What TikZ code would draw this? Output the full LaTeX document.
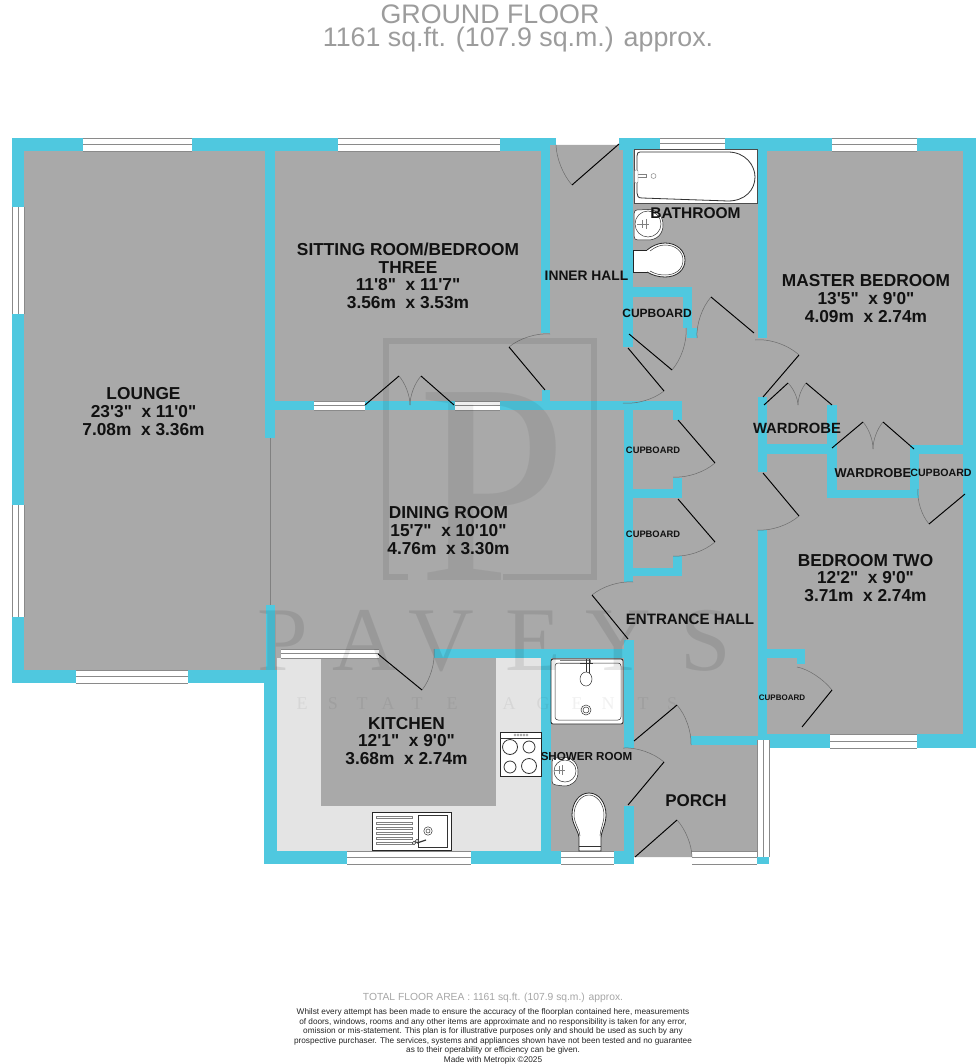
\documentclass[tikz,border=0pt]{standalone}
\usepackage{fontspec}
\newfontfamily\labfont{Liberation Sans}
\newfontfamily\wmfont{Liberation Serif}
\definecolor{wallc}{HTML}{4FC8DF}
\definecolor{floorc}{HTML}{A9A9A9}
\definecolor{kitc}{HTML}{E4E4E4}
\definecolor{winline}{HTML}{8A8A8A}
\definecolor{titlec}{HTML}{9C9C9C}
\definecolor{inkc}{HTML}{111111}
\tikzset{
  leaf/.style={draw=black,line width=0.95pt},
  swing/.style={draw=gray!85!black,line width=0.5pt},
  fixt/.style={draw=black!85,line width=0.8pt,fill=white},
  fixl/.style={draw=black!80,line width=0.5pt},
  fixg/.style={draw=black!50,line width=0.45pt},
  lab/.style={font=\labfont\bfseries\fontsize{#1}{#1}\selectfont,text=inkc,inner sep=0pt,align=center},
  rm/.style={font=\labfont\bfseries\fontsize{17.3}{17.6}\selectfont,text=inkc,inner sep=0pt,align=center},
  wm/.style={font=\wmfont\fontsize{#1}{#1}\selectfont,text=black,opacity=0.09,text opacity=0.09,inner sep=0pt,anchor=base},
}
% wall: filled rectangle
\newcommand\wl[4]{\fill[wallc] (#1,#2) rectangle (#3,#4);}
% horizontal window
\newcommand\wh[4]{%
  \fill[white] (#1,#2) rectangle (#3,#4);
  \draw[winline,line width=0.7pt] (#1,#2)--(#3,#2) (#1,#4)--(#3,#4);
  \draw[winline,line width=0.7pt] (#1,{(#2+#4)/2})--(#3,{(#2+#4)/2});}
% vertical window
\newcommand\wv[4]{%
  \fill[white] (#1,#2) rectangle (#3,#4);
  \draw[winline,line width=0.7pt] (#1,#2)--(#1,#4) (#3,#2)--(#3,#4);
  \draw[winline,line width=0.7pt] ({(#1+#3)/2},#2)--({(#1+#3)/2},#4);}
% door: hinge, leaf end, end of the swing
\newcommand\door[6]{%
  \pgfmathsetmacro\dUx{#3-#1}\pgfmathsetmacro\dUy{#4-#2}%
  \pgfmathsetmacro\dVx{#5-#1}\pgfmathsetmacro\dVy{#6-#2}%
  \pgfmathsetmacro\dCos{(\dUx*\dVx+\dUy*\dVy)/(veclen(\dUx,\dUy)*veclen(\dVx,\dVy))}%
  \pgfmathsetmacro\dPx{#1+(\dUx+\dVx)/(1+\dCos)}\pgfmathsetmacro\dPy{#2+(\dUy+\dVy)/(1+\dCos)}%
  \pgfmathsetmacro\dAx{#3+0.58*(\dPx-#3)}\pgfmathsetmacro\dAy{#4+0.58*(\dPy-#4)}%
  \pgfmathsetmacro\dBx{#5+0.58*(\dPx-#5)}\pgfmathsetmacro\dBy{#6+0.58*(\dPy-#6)}%
  \draw[swing] (#3,#4) .. controls (\dAx,\dAy) and (\dBx,\dBy) .. (#5,#6);
  \draw[leaf] (#1,#2)--(#3,#4);}
\begin{document}
\begin{tikzpicture}[x=1pt,y=-1pt]
\useasboundingbox (0,0) rectangle (978,1064);
\fill[white] (0,0) rectangle (978,1064);
% floors
\fill[floorc] (18,145)--(970,145)--(970,742)--(764,742)--(764,857)--(270,857)--(270,676)--(18,676)--cycle;
\fill[kitc] (277,658) rectangle (541,851);
\fill[floorc] (321,658) rectangle (496,806);
% outer walls
\wl{12}{138}{24}{683}
\wl{12}{138}{550}{151}
\wl{550}{138}{556}{145}
\wl{619}{138}{660}{150}
\wl{660}{138}{725}{150}
\wl{725}{138}{976}{151}
\wl{963}{138}{976}{748}
\wl{758}{734}{976}{748}
\wl{691}{736}{758}{745}
\wl{12}{670}{264}{683}
\wl{264}{670}{277}{864}
\wl{264}{851}{561}{864}
\wl{614}{851}{634}{864}
\wl{757}{857}{769}{864}
% inner walls
\wl{265}{150}{275}{438}
\wl{266}{605}{275}{672}
\draw[gray,line width=0.5pt] (270,438)--(270,605);
\wl{275}{401}{500}{410}
\wl{500}{401}{682}{410}
\wl{541}{150}{550}{333}
\wl{542}{390}{550}{402}
\wl{623}{138}{633}{287}
\wl{623}{287}{692}{297}
\wl{623}{287}{633}{347}
\wl{683}{287}{692}{328}
\wl{687}{328}{697}{338}
\wl{758}{150}{767}{338}
\wl{624}{401}{633}{582}
\wl{673}{410}{682}{420}
\wl{633}{489}{682}{498}
\wl{673}{478}{682}{498}
\wl{673}{556}{682}{576}
\wl{624}{568}{682}{576}
\wl{758}{397}{767}{472}
\wl{767}{444}{830}{454}
\wl{827}{405}{837}{498}
\wl{827}{490}{919}{498}
\wl{910}{445}{919}{498}
\wl{919}{445}{963}{454}
\wl{758}{530}{767}{748}
\wl{767}{649}{805}{658}
\wl{797}{649}{805}{664}
\wl{434}{649}{633}{658}
\wl{541}{649}{551}{851}
\wl{624}{640}{634}{748}
\wl{624}{806}{634}{864}
% windows
\wh{83}{138}{192}{151}
\wh{338}{138}{500}{151}
\wh{660}{138}{725}{149}
\wh{832}{138}{917}{151}
\wv{12}{207}{24}{314}
\wv{12}{505}{24}{617}
\wh{76}{670}{188}{683}
\wh{314}{401}{365}{410}
\wh{455}{401}{500}{410}
\wh{281}{649}{379}{658}
\wh{347}{851}{471}{864}
\wh{561}{851}{614}{864}
\wh{830}{734}{917}{748}
\wh{692}{851}{757}{864}
\wv{757}{740}{769}{857}
% doors
\door{619}{144}{572}{185}{556}{145}
\door{545}{390}{509}{347}{550}{334}
\door{629}{334}{672}{370}{686}{328}
\door{628}{348}{664}{391}{623}{403}
\door{754}{333}{711}{297}{697}{338}
\door{763}{397}{799}{355}{755}{340}
\door{764}{405}{788}{383}{798}{405}
\door{832}{405}{806}{383}{798}{405}
\door{832}{448}{863}{422}{873}{449}
\door{914}{449}{883}{422}{873}{449}
\door{965}{494}{929}{524}{918}{489}
\door{678}{420}{715}{463}{673}{477}
\door{678}{499}{715}{542}{673}{556}
\door{763}{473}{799}{516}{757}{530}
\door{628}{639}{592}{595}{633}{582}
\door{378}{654}{422}{690}{434}{649}
\door{365}{405}{399}{376}{410}{405}
\door{454}{405}{421}{376}{410}{405}
\door{802}{727}{832}{690}{797}{667}
\door{634}{741}{677}{705}{691}{745}
\door{628}{805}{664}{762}{623}{748}
\door{635}{857}{677}{820}{692}{857}
% bath
\draw[draw=black!70,line width=0.7pt,fill=white] (634,149) rectangle (757,203);
\draw[fixl,line width=0.8pt] (640,152)--(728,152) .. controls (745,152) and (755,165) .. (755,177) .. controls (755,190) and (745,201) .. (728,201)--(642,198) .. controls (638,198) and (637,196) .. (637,193)--(637,156) .. controls (637,153) and (638,152) .. (640,152)--cycle;
\draw[fixg] (636,174.5)--(646,174.5)--(646,177.5)--(636,177.5);
\draw[fixg,fill=white,rounded corners=1pt] (634.5,170) rectangle (638,183);
\draw[fixg] (653.5,176) circle (2.5);
% basin, bathroom
\draw[fixt,line width=0.5pt] (637,210) -- (648,209.5) .. controls (657,209.5) and (663,216) .. (663,225) .. controls (663,234) and (657,240) .. (648,240) -- (638,240) .. controls (635.5,240) and (634,239) .. (634,236)--(634,214) .. controls (634,211) and (635.5,210) .. (637,210)--cycle;
\draw[fixl] (648,224) circle (13);
\draw[fixg] (637,224)--(649,224) (642,220)--(642,228) (646,219)--(646,229);
% wc, bathroom
\draw[fixt,line width=0.6pt] (633,250)--(648,250)--(648,272)--(633,272)--cycle;
\fill[white] (646,251) rectangle (650,271);
\draw[fixt] (647,250) .. controls (652,246) and (658,243) .. (665,243) .. controls (677,243) and (685,251) .. (685,260) .. controls (685,270) and (677,277) .. (665,277) .. controls (658,277) and (652,275) .. (647,272);
\draw[fixl] (650,251) .. controls (655,247) and (660,245) .. (665,245) .. controls (676,245) and (683,252) .. (683,260) .. controls (683,269) and (676,275) .. (665,275) .. controls (660,275) and (655,274) .. (650,271);
% shower tray
\draw[fixt,rounded corners=2pt] (551,659) rectangle (623,724);
\draw[fixl,rounded corners=3pt] (555,663) rectangle (621,720);
\draw[fixg] (560,660)--(590,660)--(590,663)--(560,663);
\draw[fixl] (586,659)--(586,673) (589,659)--(589,673) (580,663)--(593,663);
\draw[fixl,fill=white] (586,679) ellipse (6 and 7);
\draw[fixl] (586,710) circle (5) (586,710) circle (3);
% hob
\draw[fixt] (500,732) rectangle (541,776);
\draw[fixl] (500,738)--(541,738);
\foreach \hx in {515,518,521,524,527}{\draw[fixg,line width=0.3pt] (\hx,735) circle (1.1);}
\draw[fixl,line width=0.8pt] (510,747) circle (7.5) (529,747) circle (6) (510,767) circle (6) (529,766) circle (7.5);
% sink
\draw[fixt] (372,812) rectangle (451,850);
\foreach \ry in {817,823,828,833,838,843}{\draw[fixg,fill=white,line width=0.4pt] (376,\ry-1.2) rectangle (412,\ry+1.2);}
\draw[fixl,line width=0.8pt] (418,815) rectangle (447,847);
\draw[fixl] (428,831) circle (4.2) (428,831) circle (2);
\draw[fixl,fill=white,line width=0.6pt] (414,843) circle (1.8) (417,841) circle (1.8);
\draw[draw=black!80,line width=1.2pt] (417,843)--(426,840);
% basin, shower room
\draw[fixt,line width=0.5pt] (556,758) -- (565,757.5) .. controls (573,757.5) and (578,764) .. (578,772) .. controls (578,781) and (572,786) .. (564,786) -- (556,785) .. controls (553,785) and (552,783) .. (552,781)--(552,762) .. controls (552,759) and (553,758) .. (556,758)--cycle;
\draw[fixl] (565,771) circle (11);
\draw[fixg] (554,770)--(565,770) (559,766)--(559,774) (562,765)--(562,775);
% wc, shower room
\draw[fixt] (579,838) .. controls (579,832) and (572,824) .. (572,815) .. controls (572,803) and (579,793) .. (589,793) .. controls (599,793) and (606,803) .. (606,815) .. controls (606,824) and (601,832) .. (601,838)--(601,851)--(579,851)--cycle;
\draw[fixl] (580,836) .. controls (580,830) and (574,823) .. (574,815) .. controls (574,804) and (581,795) .. (589,795) .. controls (597,795) and (604,804) .. (604,815) .. controls (604,823) and (600,830) .. (600,836);
\draw[fixl] (579,846)--(601,846);
% watermark
\draw[draw=black,opacity=0.08,line width=6pt] (408,577)--(386,577)--(386,341)--(594,341)--(594,577)--(503,577);
\node[wm=287,xscale=0.93,opacity=0.065,text opacity=0.065] (wmP) at (493,580) {P};
\node[wm=91] (w1) at (283,670) {P};
\node[wm=91] (w2) at (365,670) {A};
\node[wm=91] (w3) at (441,670) {V};
\node[wm=91] (w4) at (533,670) {E};
\node[wm=91] (w5) at (618,670) {Y};
\node[wm=91] (w6) at (706,670) {S};
\foreach \ch/\lx in {E/302,S/333,T/362,A/388,T/417,E/452,A/509,G/543,E/577,N/608,T/643,S/672}{
  \node[wm=18,opacity=0.06,text opacity=0.06] (e\lx) at (\lx,709) {\ch};}
% labels
\node[rm] (lounge) at (143.5,411.5) {LOUNGE\\23'3"~ x 11'0"~\\7.08m~ x 3.36m~};
\node[rm] (sitting) at (408,276) {SITTING ROOM/BEDROOM\\THREE\\11'8"~ x 11'7"~\\3.56m~ x 3.53m~};
\node[rm] (master) at (866,298.5) {MASTER BEDROOM\\13'5"~ x 9'0"~\\4.09m~ x 2.74m~};
\node[rm] (dining) at (448.5,530.5) {DINING ROOM\\15'7"~ x 10'10"~\\4.76m~ x 3.30m~};
\node[rm] (bed2) at (865.5,578) {BEDROOM TWO\\12'2"~ x 9'0"~\\3.71m~ x 2.74m~};
\node[rm] (kitchen) at (406.5,741) {KITCHEN\\12'1"~ x 9'0"~\\3.68m~ x 2.74m~};
\node[lab=17] (porch) at (696,801) {PORCH};
\node[lab=15.5] (bathroom) at (695.5,213) {BATHROOM};
\node[lab=13.8] (inner) at (586.5,276) {INNER HALL};
\node[lab=12] (cb1) at (657,313) {CUPBOARD};
\node[lab=9.35] (cb2) at (653,450) {CUPBOARD};
\node[lab=9.35] (cb3) at (653,534) {CUPBOARD};
\node[lab=14.8] (wr1) at (797,428) {WARDROBE};
\node[lab=12.9] (wr2) at (873,473) {WARDROBE};
\node[lab=10.6] (cb4) at (941,473) {CUPBOARD};
\node[lab=15.1] (entrance) at (690,619) {ENTRANCE HALL};
\node[lab=11.6] (shower) at (586.5,756) {SHOWER ROOM};
\node[lab=8] (cb5) at (782,698) {CUPBOARD};
% title
\node[font=\labfont\fontsize{26.8}{26.8}\selectfont,text=titlec,inner sep=0pt] (title1) at (490,14) {GROUND FLOOR};
\node[font=\labfont\fontsize{26.8}{26.8}\selectfont,text=titlec,inner sep=0pt] (title2) at (518,40) {1161 sq.ft. (107.9 sq.m.) approx.};
% footer
\node[font=\labfont\fontsize{10.3}{10.3}\selectfont,text=black!35,inner sep=0pt] (total) at (493,998) {TOTAL FLOOR AREA : 1161 sq.ft. (107.9 sq.m.) approx.};
\node[font=\labfont\fontsize{8.25}{9.45}\selectfont,text=black!85,inner sep=0pt,align=center,anchor=north] (disc) at (493,1008.7) {Whilst every attempt has been made to ensure the accuracy of the floorplan contained here, measurements\\of doors, windows, rooms and any other items are approximate and no responsibility is taken for any error,\\omission or mis-statement. This plan is for illustrative purposes only and should be used as such by any\\prospective purchaser. The services, systems and appliances shown have not been tested and no guarantee\\as to their operability or efficiency can be given.\\Made with Metropix ©2025};
\end{tikzpicture}
\end{document}
